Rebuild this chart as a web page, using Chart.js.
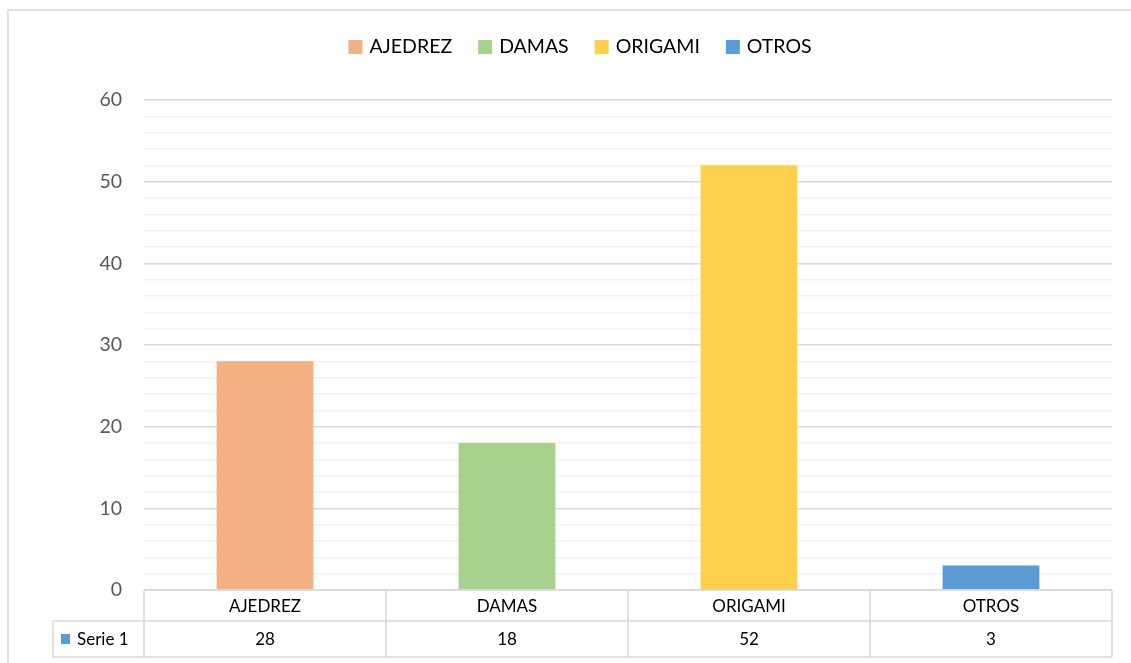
<!DOCTYPE html>
<html lang="es">
<head>
    <meta charset="UTF-8">
    <title>Juegos preferidos</title>
    <script src="https://cdn.jsdelivr.net/npm/chart.js"></script>
    <style>
        html, body { margin: 0; padding: 0; background: #fff; overflow: hidden; }
        .chart-container { position: relative; width: 1131px; height: 663px; }
    </style>
</head>
<body>
    <div class="chart-container">
        <canvas id="barChart" width="1131" height="663"></canvas>
    </div>

    <script>
        // Data
        const categories = ['AJEDREZ', 'DAMAS', 'ORIGAMI', 'OTROS'];
        const values = [28, 18, 52, 3];
        const barColors = ['#F4B183', '#A9D18E', '#FFD04B', '#5B9BD5'];
        const seriesName = 'Serie 1';
        const seriesColor = '#5B9BD5';
        const yTicks = [0, 10, 20, 30, 40, 50, 60];

        const FONT = 'Lato, "Open Sans", sans-serif';
        const GRID = '#d9d9d9';

        // Outer frame, legend and data table (Excel style)
        const excelDecor = {
            id: 'excelDecor',
            beforeDraw(chart) {
                const ctx = chart.ctx;
                ctx.save();
                ctx.strokeStyle = GRID;
                ctx.lineWidth = 1.5;
                ctx.beginPath();
                ctx.moveTo(8, 670);
                ctx.lineTo(8, 10);
                ctx.lineTo(1131, 10);
                ctx.stroke();
                ctx.restore();
            },
            afterDraw(chart) {
                const ctx = chart.ctx;
                const x = chart.scales.x;
                const area = chart.chartArea;
                ctx.save();

                // legend, centred on the whole chart frame
                ctx.font = '19.5px ' + FONT;
                ctx.textBaseline = 'middle';
                const box = 14, gapText = 7, gapItem = 26;
                const widths = categories.map(c => box + gapText + ctx.measureText(c).width);
                const total = widths.reduce((a, b) => a + b, 0) + gapItem * (categories.length - 1);
                let lx = 580 - total / 2;
                const ly = 47;
                categories.forEach((c, i) => {
                    ctx.fillStyle = barColors[i];
                    ctx.fillRect(lx, ly - box / 2, box, box);
                    ctx.fillStyle = '#000';
                    ctx.textAlign = 'left';
                    ctx.fillText(c, lx + box + gapText, ly);
                    lx += widths[i] + gapItem;
                });

                // data table
                const top = area.bottom, mid = top + 31, bot = top + 67;
                const leftCell = 53;
                const step = x.getPixelForValue(1) - x.getPixelForValue(0);
                ctx.strokeStyle = GRID;
                ctx.lineWidth = 1.5;
                ctx.beginPath();
                ctx.moveTo(area.left, top); ctx.lineTo(area.right, top);
                ctx.moveTo(leftCell, mid); ctx.lineTo(area.right, mid);
                ctx.moveTo(leftCell, bot); ctx.lineTo(area.right, bot);
                ctx.moveTo(leftCell, mid); ctx.lineTo(leftCell, bot);
                for (let i = 0; i <= categories.length; i++) {
                    const vx = x.getPixelForValue(i) - step / 2;
                    ctx.moveTo(vx, top); ctx.lineTo(vx, bot);
                }
                ctx.stroke();

                ctx.font = '17px ' + FONT;
                ctx.fillStyle = '#000';
                ctx.textAlign = 'center';
                categories.forEach((c, i) => {
                    const cx = x.getPixelForValue(i);
                    ctx.fillText(c, cx, (top + mid) / 2 + 1);
                    ctx.fillText(String(values[i]), cx, (mid + bot) / 2 + 1);
                });
                ctx.fillStyle = seriesColor;
                ctx.fillRect(61, (mid + bot) / 2 - 5, 9, 10);
                ctx.fillStyle = '#000';
                ctx.textAlign = 'left';
                ctx.fillText(seriesName, 77, (mid + bot) / 2 + 1);
                ctx.restore();
            }
        };

        const ctx = document.getElementById('barChart').getContext('2d');
        const barChart = new Chart(ctx, {
            type: 'bar',
            data: {
                labels: categories,
                datasets: [{
                    label: seriesName,
                    data: values,
                    backgroundColor: barColors,
                    categoryPercentage: 1,
                    barPercentage: 0.4
                }]
            },
            options: {
                responsive: false,
                animation: false,
                layout: { padding: { left: 0, right: 19, top: 100, bottom: 73 } },
                plugins: {
                    legend: { display: false },
                    tooltip: { enabled: false }
                },
                scales: {
                    x: {
                        display: false
                    },
                    y: {
                        min: 0,
                        max: 60,
                        afterFit(scale) { scale.width = 144; },
                        afterBuildTicks(scale) {
                            scale.ticks = [];
                            for (let v = 0; v <= 60; v += 2) scale.ticks.push({ value: v });
                        },
                        ticks: {
                            autoSkip: false,
                            padding: 22,
                            color: '#595959',
                            font: { family: FONT, size: 19.5 },
                            callback: v => yTicks.includes(v) ? String(v) : ''
                        },
                        grid: {
                            drawTicks: false,
                            lineWidth: 1.5,
                            color: c => yTicks.includes(c.tick.value) ? GRID : '#f2f2f2'
                        },
                        border: { display: false }
                    }
                }
            },
            plugins: [excelDecor]
        });
    </script>
</body>
</html>
